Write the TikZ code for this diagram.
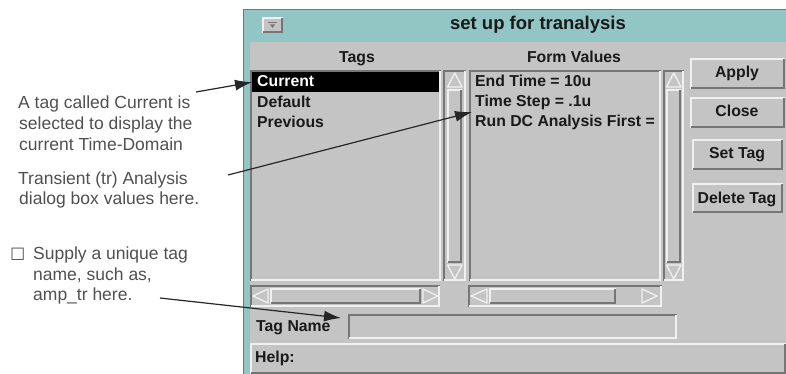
\documentclass[tikz,border=0pt]{standalone}
\usepackage{fontspec}
\setmainfont{Liberation Sans}
\newfontfamily\symfont{DejaVu Sans}
\usetikzlibrary{arrows.meta}
\definecolor{bodygray}{RGB}{196,196,196}
\definecolor{frameteal}{RGB}{146,198,196}
\definecolor{hilite}{RGB}{240,240,240}
\definecolor{lowedge}{RGB}{118,118,118}
\definecolor{annotgray}{RGB}{80,80,80}
\definecolor{uitext}{RGB}{25,25,25}
\newcommand\bvraised[4]{%
  \fill[bodygray] (#1,#2) rectangle (#3,#4);
  \draw[hilite, line width=1.6pt] (#1+0.8,#4) -- (#1+0.8,#2+0.8) -- (#3,#2+0.8);
  \draw[lowedge, line width=1.6pt] (#1+0.8,#4-0.8) -- (#3-0.8,#4-0.8) -- (#3-0.8,#2+0.8);}
\newcommand\bvsunken[4]{%
  \fill[bodygray] (#1,#2) rectangle (#3,#4);
  \draw[lowedge, line width=1.6pt] (#1+0.8,#4) -- (#1+0.8,#2+0.8) -- (#3,#2+0.8);
  \draw[hilite, line width=1.6pt] (#1+0.8,#4-0.8) -- (#3-0.8,#4-0.8) -- (#3-0.8,#2+0.8);}
\tikzset{
  uilabel/.style={inner sep=0pt, text=uitext, font=\bfseries\fontsize{15.8}{18}\selectfont},
  annot/.style={inner sep=0pt, anchor=base west, text=annotgray, font=\fontsize{17.5}{21}\selectfont},
  callout/.style={draw=black!85, line width=1.2pt, -{Latex[length=17pt,width=11pt]}},
  tri/.style={draw=hilite, line width=1.3pt, line join=round},
}
\begin{document}
\begin{tikzpicture}[x=1pt,y=-1pt]
\useasboundingbox (0,0) rectangle (786,374);
\fill[white] (0,0) rectangle (786,374);
% window frame and title bar
\fill[frameteal] (243,9) rectangle (786,374);
\draw[lowedge, line width=1pt] (243.5,374) -- (243.5,9.5) -- (786,9.5);
\fill[bodygray] (250,42) rectangle (786,374);
\bvraised{262}{17}{283}{33}
\draw[lowedge, line width=1pt] (268,23) -- (277,23);
\fill[lowedge] (270,24.5) -- (275,24.5) -- (272.5,28) -- cycle;
\node[uilabel, anchor=base, font=\bfseries\fontsize{18.5}{20}\selectfont] (title) at (538,30) {set up for tranalysis};
% column headers
\node[uilabel, anchor=base] (tagshdr) at (357,63) {Tags};
\node[uilabel, anchor=base] (formhdr) at (574,63) {Form Values};
% tags list
\bvsunken{250}{70}{441}{281}
\node[fill=black, inner sep=0pt, minimum width=187pt, minimum height=20pt, anchor=north west] (currow) at (252,72) {};
\node[uilabel, anchor=base west, text=white] (tcur) at (257,87) {Current};
\node[uilabel, anchor=base west] (tdef) at (257,108) {Default};
\node[uilabel, anchor=base west] (tprev) at (257,128) {Previous};
% tags vertical scrollbar
\bvsunken{443}{70}{466}{281}
\draw[tri] (447.5,87) -- (462,87) -- (454.75,73) -- cycle;
\bvraised{447}{89}{462}{263}
\draw[tri] (447.5,265) -- (462,265) -- (454.75,279) -- cycle;
% form values list
\bvsunken{469}{70}{661}{281}
\node[uilabel, anchor=base west] (fend) at (475,87) {End Time = 10u};
\node[uilabel, anchor=base west] (fstep) at (475,107) {Time Step = .1u};
\node[uilabel, anchor=base west] (frun) at (475,127) {Run DC Analysis First =};
% form vertical scrollbar
\bvsunken{663}{70}{684}{281}
\draw[tri] (666.5,87) -- (681,87) -- (673.75,73) -- cycle;
\bvraised{666}{89}{681}{263}
\draw[tri] (666.5,265) -- (681,265) -- (673.75,279) -- cycle;
% horizontal scrollbars
\bvsunken{250}{285}{440}{307}
\draw[tri] (268,289) -- (268,303) -- (253,296) -- cycle;
\bvraised{270}{288}{421}{304}
\draw[tri] (423,289) -- (423,303) -- (438,296) -- cycle;
\bvsunken{468}{285}{662}{307}
\draw[tri] (487,289) -- (487,303) -- (471,296) -- cycle;
\bvraised{489}{288}{616}{304}
\draw[tri] (642,289) -- (642,303) -- (657,296) -- cycle;
% buttons
\bvraised{690}{58}{785}{89}
\node[uilabel, anchor=base] (apply) at (737,78) {Apply};
\bvraised{690}{97}{785}{128}
\node[uilabel, anchor=base] (close) at (737,117) {Close};
\bvraised{692}{139}{783}{170}
\node[uilabel, anchor=base] (settag) at (737,159) {Set Tag};
\bvraised{692}{183}{783}{213}
\node[uilabel, anchor=base] (deltag) at (737,203) {Delete Tag};
% tag name field
\node[uilabel, anchor=base west] (tagname) at (256,331) {Tag Name};
\bvsunken{348}{314}{677}{339}
% help bar
\bvraised{250}{343}{786}{374}
\node[uilabel, anchor=base west] (help) at (255,362) {Help:};
% annotations
\node[annot] (a1) at (18,109) {A tag called Current is};
\node[annot] (a2) at (19,130) {selected to display the};
\node[annot] (a3) at (19,151) {current Time-Domain};
\node[annot] (b1) at (18,184) {Transient (tr) Analysis};
\node[annot] (b2) at (19,204) {dialog box values here.};
\node[annot, font=\symfont\fontsize{17}{18}\selectfont] (box) at (10,260) {☐};
\node[annot] (c1) at (33,259) {Supply a unique tag};
\node[annot] (c2) at (33,280) {name, such as,};
\node[annot] (c3) at (33,300) {amp\_tr here.};
% callout ends
\coordinate (s1) at (196,92);
\coordinate (s2) at (228,175);
\coordinate (e2) at (472,112);
\coordinate (s3) at (160,298);
\coordinate (e3) at (341,318);
\draw[callout] (s1) -- (currow.west);
\draw[callout] (s2) -- (e2);
\draw[callout] (s3) -- (e3);
\end{tikzpicture}
\end{document}
